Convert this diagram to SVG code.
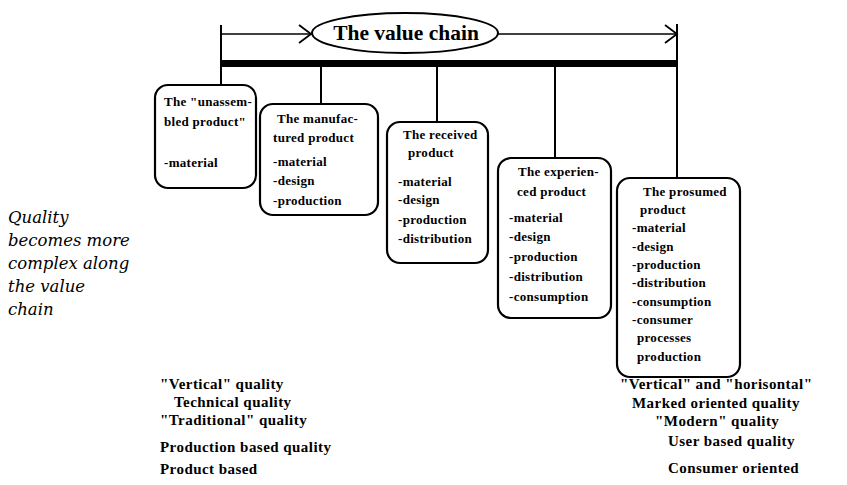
<svg xmlns="http://www.w3.org/2000/svg" width="847" height="485" viewBox="0 0 847 485">
  <style>
    .box { fill: #fff; stroke: #000; stroke-width: 2.2; }
    .line { fill: none; stroke: #000; stroke-width: 2; }
    .thin { fill: none; stroke: #000; stroke-width: 1.6; }
    .bt { font-family: "Liberation Serif", "Times New Roman", serif; font-weight: bold; font-size: 13px; letter-spacing: 0.3px; fill: #000; }
    .title { font-family: "Liberation Serif", "Times New Roman", serif; font-weight: bold; font-size: 21.5px; fill: #000; }
    .q { font-family: "Liberation Serif", "Times New Roman", serif; font-weight: bold; font-size: 15px; letter-spacing: 0.45px; fill: #000; }
    .it { font-family: "DejaVu Serif", "Liberation Serif", serif; font-style: italic; font-size: 16.5px; fill: #000; }
  </style>
  <defs>
    <marker id="chev" markerWidth="16" markerHeight="22" refX="13" refY="11" orient="auto" markerUnits="userSpaceOnUse">
      <path d="M1,2 L13,11 L1,20" fill="none" stroke="#000" stroke-width="1.8"/>
    </marker>
  </defs>

  <!-- value chain axis, arrows and stems -->
  <g id="connectors">
    <line class="line" x1="221" y1="25" x2="221" y2="86"/>
    <line class="line" x1="677" y1="24" x2="677" y2="179"/>
    <line class="thin" x1="221" y1="34" x2="311" y2="34" marker-end="url(#chev)"/>
    <line class="thin" x1="498" y1="34" x2="677" y2="34" marker-end="url(#chev)"/>
    <rect x="221" y="60" width="456" height="7" fill="#000"/>
    <line class="line" x1="321" y1="63" x2="321" y2="105"/>
    <line class="line" x1="437" y1="63" x2="437" y2="123"/>
    <line class="line" x1="555" y1="63" x2="555" y2="159"/>
  </g>

  <g id="title">
    <ellipse cx="405" cy="33" rx="93" ry="20" fill="#fff" stroke="#000" stroke-width="2"/>
    <text class="title" x="406" y="40" text-anchor="middle">The value chain</text>
  </g>

  <g id="unassembled">
    <rect class="box" x="155" y="85" width="101" height="103" rx="13"/>
    <text class="bt" x="164" y="106">The "unassem-</text>
    <text class="bt" x="164" y="126">bled product"</text>
    <text class="bt" x="164" y="167">-material</text>
  </g>

  <g id="manufactured">
    <rect class="box" x="260" y="104" width="118" height="111" rx="13"/>
    <text class="bt" x="277" y="123">The manufac-</text>
    <text class="bt" x="273" y="142">tured product</text>
    <text class="bt" x="273" y="166">-material</text>
    <text class="bt" x="273" y="185">-design</text>
    <text class="bt" x="273" y="205">-production</text>
  </g>

  <g id="received">
    <rect class="box" x="387" y="122" width="101" height="141" rx="13"/>
    <text class="bt" x="403" y="139">The received</text>
    <text class="bt" x="408" y="157">product</text>
    <text class="bt" x="398" y="186">-material</text>
    <text class="bt" x="398" y="204">-design</text>
    <text class="bt" x="398" y="224">-production</text>
    <text class="bt" x="398" y="243">-distribution</text>
  </g>

  <g id="experienced">
    <rect class="box" x="498" y="158" width="113" height="160" rx="13"/>
    <text class="bt" x="518" y="176">The experien-</text>
    <text class="bt" x="517" y="196">ced product</text>
    <text class="bt" x="509" y="222">-material</text>
    <text class="bt" x="509" y="241">-design</text>
    <text class="bt" x="509" y="261">-production</text>
    <text class="bt" x="509" y="281">-distribution</text>
    <text class="bt" x="509" y="301">-consumption</text>
  </g>

  <g id="prosumed">
    <rect class="box" x="617" y="178" width="123" height="199" rx="13"/>
    <text class="bt" x="643" y="196">The prosumed</text>
    <text class="bt" x="640" y="214">product</text>
    <text class="bt" x="632" y="232">-material</text>
    <text class="bt" x="632" y="251">-design</text>
    <text class="bt" x="632" y="269">-production</text>
    <text class="bt" x="632" y="287">-distribution</text>
    <text class="bt" x="632" y="306">-consumption</text>
    <text class="bt" x="632" y="324">-consumer</text>
    <text class="bt" x="637" y="342">processes</text>
    <text class="bt" x="637" y="361">production</text>
  </g>

  <g id="note">
    <text class="it" x="8" y="223">Quality</text>
    <text class="it" x="8" y="246">becomes more</text>
    <text class="it" x="8" y="269">complex along</text>
    <text class="it" x="8" y="292">the value</text>
    <text class="it" x="8" y="315">chain</text>
  </g>

  <g id="traditional">
    <text class="q" x="160" y="389">"Vertical" quality</text>
    <text class="q" x="174" y="407">Technical quality</text>
    <text class="q" x="160" y="425">"Traditional" quality</text>
    <text class="q" x="160" y="452">Production based quality</text>
    <text class="q" x="160" y="474">Product based</text>
  </g>

  <g id="modern">
    <text class="q" x="620" y="389">"Vertical" and "horisontal"</text>
    <text class="q" x="632" y="408">Marked oriented quality</text>
    <text class="q" x="655" y="426">"Modern" quality</text>
    <text class="q" x="668" y="446">User based quality</text>
    <text class="q" x="668" y="473">Consumer oriented</text>
  </g>
</svg>
